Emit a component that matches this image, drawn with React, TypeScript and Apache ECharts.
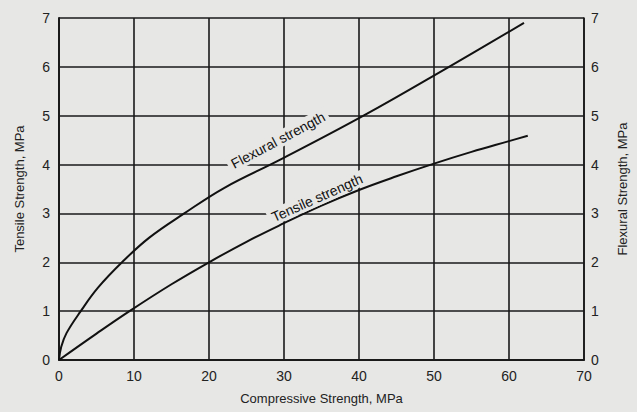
import React, { useEffect, useRef } from "react";
import * as echarts from "echarts";

const xTicks = [0, 10, 20, 30, 40, 50, 60, 70];
const yTicks = [0, 1, 2, 3, 4, 5, 6, 7];
const flexuralX = [0, 0.3, 1, 2.9, 5.2, 8.4, 12, 16.7, 22, 29.5, 40.6, 52, 62];
const flexuralY = [0, 0.27, 0.55, 1.0, 1.48, 2.0, 2.5, 3.0, 3.52, 4.1, 5.0, 6.0, 6.9];
const tensileX = [0, 5, 9.4, 15, 20, 25, 30, 35, 40, 45, 50, 55, 60, 62.5];
const tensileY = [0, 0.54, 1.0, 1.55, 2.0, 2.42, 2.8, 3.16, 3.48, 3.76, 4.02, 4.26, 4.48, 4.59];
const curveLabels = ["Flexural strength", "Tensile strength"];

const BG = "#e7e7e5";
const FONT = "Liberation Sans, Arial, sans-serif";

export default function App() {
  const ref = useRef<HTMLDivElement>(null);
  useEffect(() => {
    const chart = echarts.init(ref.current!, null, { renderer: "svg" });
    const axisLabel = { color: "#222", fontSize: 14, fontFamily: FONT };
    const splitLine = { show: true, lineStyle: { color: "#1a1a1a", width: 1.6 } };
    const nameStyle = { color: "#222", fontSize: 13, fontFamily: FONT };
    chart.setOption({
      animation: false,
      backgroundColor: BG,
      grid: { left: 59, right: 50, top: 18, bottom: 52 },
      xAxis: {
        type: "value",
        min: xTicks[0],
        max: xTicks[xTicks.length - 1],
        interval: 10,
        name: "Compressive Strength, MPa",
        nameLocation: "middle",
        nameGap: 32,
        nameTextStyle: nameStyle,
        axisLine: { show: true, lineStyle: { color: "#1a1a1a", width: 2 } },
        axisTick: { show: false },
        axisLabel: { ...axisLabel, margin: 9 },
        splitLine,
      },
      yAxis: [
        {
          type: "value",
          min: yTicks[0],
          max: yTicks[yTicks.length - 1],
          interval: 1,
          name: "Tensile Strength, MPa",
          nameLocation: "middle",
          nameGap: 33,
          nameTextStyle: nameStyle,
          axisLine: { show: true, lineStyle: { color: "#1a1a1a", width: 2 } },
          axisTick: { show: false },
          axisLabel: { ...axisLabel, margin: 9 },
          splitLine,
        },
        {
          type: "value",
          position: "right",
          min: yTicks[0],
          max: yTicks[yTicks.length - 1],
          interval: 1,
          name: "Flexural Strength, MPa",
          nameLocation: "middle",
          nameGap: 32,
          nameRotate: 90,
          nameTextStyle: nameStyle,
          axisLine: { show: true, lineStyle: { color: "#1a1a1a", width: 1.6 } },
          axisTick: { show: false },
          axisLabel: { ...axisLabel, margin: 7 },
          splitLine: { show: false },
        },
      ],
      series: [
        {
          type: "line",
          smooth: 0.4,
          showSymbol: false,
          lineStyle: { color: "#111", width: 2 },
          data: flexuralX.map((x, i) => [x, flexuralY[i]]),
          z: 3,
        },
        {
          type: "line",
          smooth: 0.4,
          showSymbol: false,
          lineStyle: { color: "#111", width: 2 },
          data: tensileX.map((x, i) => [x, tensileY[i]]),
          z: 3,
        },
      ],
    });
    const p1 = chart.convertToPixel({ gridIndex: 0 }, [29.2, 4.5]) as number[];
    const p2 = chart.convertToPixel({ gridIndex: 0 }, [34.4, 3.32]) as number[];
    const labelStyle = {
      fill: "#111",
      font: `14px ${FONT}`,
      align: "center",
      verticalAlign: "middle",
      backgroundColor: BG,
      padding: [1, 4],
    };
    chart.setOption({
      graphic: [
        {
          type: "text",
          x: p1[0],
          y: p1[1],
          rotation: (28 * Math.PI) / 180,
          z: 10,
          style: { ...labelStyle, text: curveLabels[0] },
        },
        {
          type: "text",
          x: p2[0],
          y: p2[1],
          rotation: (24 * Math.PI) / 180,
          z: 10,
          style: { ...labelStyle, text: curveLabels[1] },
        },
      ],
    });
    return () => chart.dispose();
  }, []);
  return <div ref={ref} style={{ width: 637, height: 412, position: "absolute", left: 0, top: 0 }} />;
}
